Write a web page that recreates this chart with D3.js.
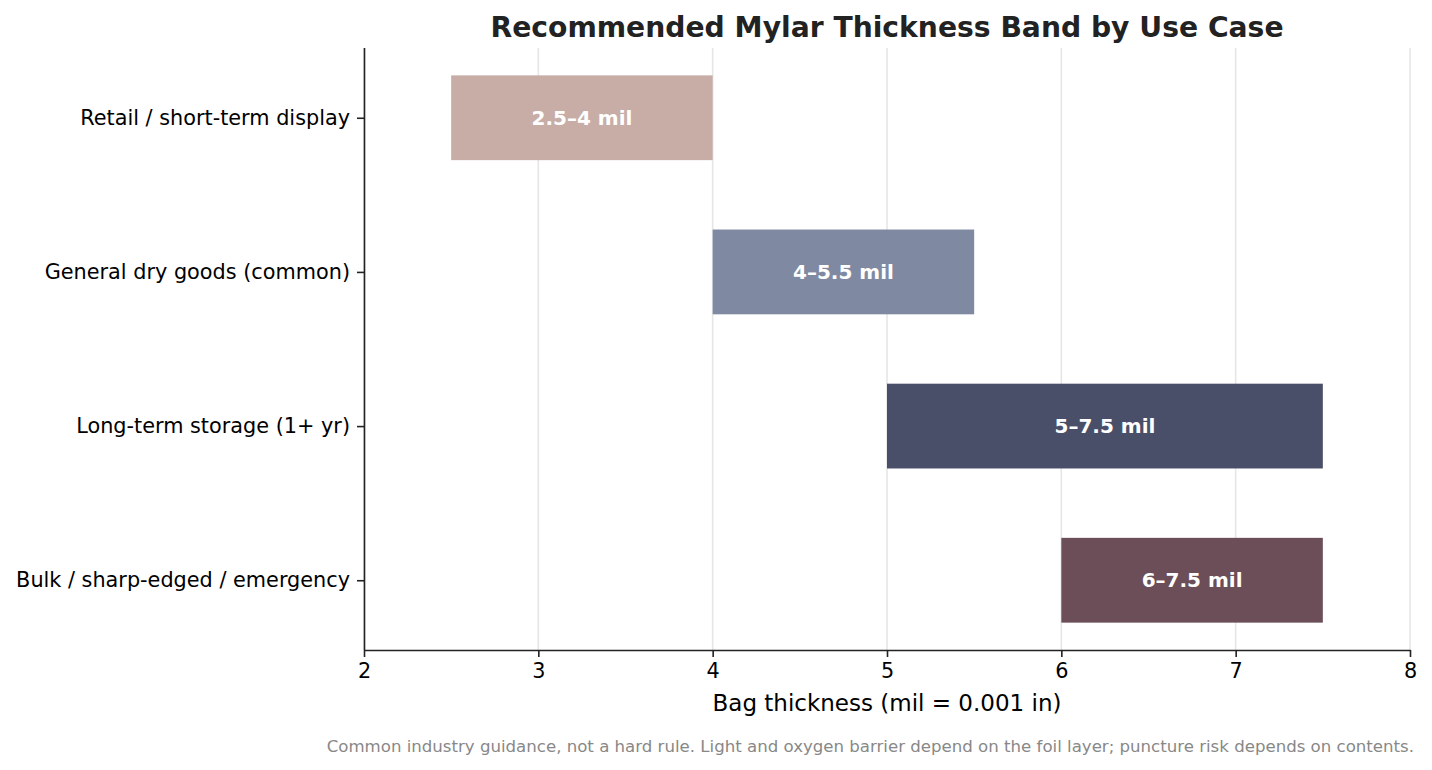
<!DOCTYPE html>
<html>
<head>
<meta charset="utf-8">
<script src="https://cdn.jsdelivr.net/npm/d3@7"></script>
<style>
  body { margin: 0; background: #fff; }
  text { font-family: "DejaVu Sans", sans-serif; }
</style>
</head>
<body>
<div id="chart"></div>
<script>
const width = 1432;
const height = 770;
const margin = { top: 48, right: 22, bottom: 120, left: 364 };

// data, top to bottom
const useCases = [
    "Retail / short-term display",
    "General dry goods (common)",
    "Long-term storage (1+ yr)",
    "Bulk / sharp-edged / emergency"
];
const lowMil = [2.5, 4, 5, 6];
const highMil = [4, 5.5, 7.5, 7.5];
const bandLabels = ["2.5–4 mil", "4–5.5 mil", "5–7.5 mil", "6–7.5 mil"];
const barColors = ["#c8ada7", "#7f8aa2", "#4a4f69", "#6b4e57"];
const xTicks = [2, 3, 4, 5, 6, 7, 8];

const svg = d3.select("#chart")
    .append("svg")
    .attr("width", width)
    .attr("height", height);

const x = d3.scaleLinear()
    .domain([2, 8])
    .range([margin.left, width - margin.right]);

// index scale, matplotlib-style margins around bars of height 0.55
const barH = 0.55;
const pad = (useCases.length - 1 + barH) * 0.05 + barH / 2;
const y = d3.scaleLinear()
    .domain([-pad, useCases.length - 1 + pad])
    .range([margin.top, height - margin.bottom]);

const plotTop = margin.top;
const plotBottom = height - margin.bottom;

// grid
svg.append("g")
    .selectAll("line")
    .data(xTicks)
    .join("line")
    .attr("x1", d => x(d))
    .attr("x2", d => x(d))
    .attr("y1", plotTop)
    .attr("y2", plotBottom)
    .attr("stroke", "#e6e6e6")
    .attr("stroke-width", 1.6);

// bars
svg.append("g")
    .selectAll("rect")
    .data(useCases)
    .join("rect")
    .attr("x", (d, i) => x(lowMil[i]))
    .attr("width", (d, i) => x(highMil[i]) - x(lowMil[i]))
    .attr("y", (d, i) => y(i - barH / 2))
    .attr("height", y(barH) - y(0))
    .attr("fill", (d, i) => barColors[i]);

// bar labels
svg.append("g")
    .selectAll("text")
    .data(bandLabels)
    .join("text")
    .attr("x", (d, i) => x((lowMil[i] + highMil[i]) / 2))
    .attr("y", (d, i) => y(i))
    .attr("dy", "0.36em")
    .attr("text-anchor", "middle")
    .attr("fill", "#fff")
    .attr("font-weight", "bold")
    .attr("font-size", 20)
    .text(d => d);

// x axis
const xAxis = svg.append("g")
    .attr("transform", `translate(0,${plotBottom})`)
    .call(d3.axisBottom(x).tickValues(xTicks).tickFormat(d3.format("d")).tickSize(7).tickSizeOuter(0).tickPadding(6));
xAxis.select(".domain").attr("stroke", "#222").attr("stroke-width", 1.6);
xAxis.selectAll(".tick line").attr("stroke", "#222").attr("stroke-width", 1.6);
xAxis.selectAll(".tick text").attr("font-size", 20.8).attr("fill", "#000")
    .style("font-family", "DejaVu Sans");

// y axis
const yAxis = svg.append("g")
    .attr("transform", `translate(${margin.left},0)`)
    .call(d3.axisLeft(y).tickValues(d3.range(useCases.length)).tickFormat(i => useCases[i]).tickSize(7).tickSizeOuter(0).tickPadding(7));
yAxis.select(".domain").attr("stroke", "#222").attr("stroke-width", 1.6)
    .attr("d", `M0.5,${plotTop}V${plotBottom}`);
yAxis.selectAll(".tick line").attr("stroke", "#222").attr("stroke-width", 1.6);
yAxis.selectAll(".tick text").attr("font-size", 20.8).attr("fill", "#000")
    .style("font-family", "DejaVu Sans");

// x axis title
svg.append("text")
    .attr("x", (margin.left + width - margin.right) / 2)
    .attr("y", 711)
    .attr("text-anchor", "middle")
    .attr("font-size", 23)
    .attr("fill", "#000")
    .text("Bag thickness (mil = 0.001 in)");

// title
svg.append("text")
    .attr("x", (margin.left + width - margin.right) / 2)
    .attr("y", 37)
    .attr("text-anchor", "middle")
    .attr("font-size", 28.2)
    .attr("font-weight", "bold")
    .attr("fill", "#222")
    .text("Recommended Mylar Thickness Band by Use Case");

// footnote
svg.append("text")
    .attr("x", 1414)
    .attr("y", 752)
    .attr("text-anchor", "end")
    .attr("font-size", 16.6)
    .attr("fill", "#888")
    .text("Common industry guidance, not a hard rule. Light and oxygen barrier depend on the foil layer; puncture risk depends on contents.");
</script>
</body>
</html>
